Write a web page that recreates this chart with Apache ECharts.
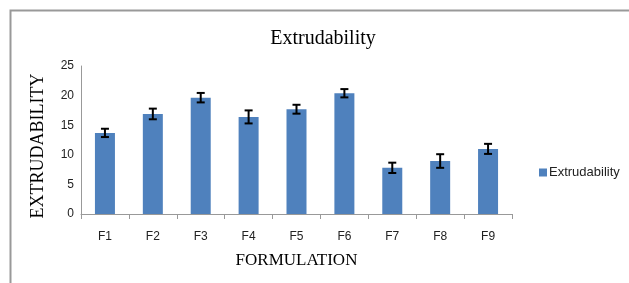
<!DOCTYPE html>
<html>
<head>
<meta charset="utf-8">
<script src="https://cdn.jsdelivr.net/npm/echarts@6/dist/echarts.min.js"></script>
<style>
  html, body { margin: 0; padding: 0; background: #fff; }
  #chart { width: 629px; height: 283px; }
</style>
</head>
<body>
<div id="chart"></div>
<script>
const categories = ['F1', 'F2', 'F3', 'F4', 'F5', 'F6', 'F7', 'F8', 'F9'];
const extrudability = [13.7, 16.9, 19.65, 16.4, 17.7, 20.4, 7.8, 8.95, 11.0];
const errors = [0.7, 0.9, 0.8, 1.1, 0.75, 0.7, 0.87, 1.15, 0.85];
const yTicks = [0, 5, 10, 15, 20, 25];

const chart = echarts.init(document.getElementById('chart'));

// error bar rows: [category index, low, high]
const errorData = extrudability.map((v, i) => [i, v - errors[i], v + errors[i]]);

const option = {
  animation: false,
  title: {
    text: 'Extrudability',
    left: 318,
    top: 24,
    textAlign: 'center',
    textStyle: {
      fontFamily: 'Liberation Serif',
      fontWeight: 'normal',
      fontSize: 20,
      color: '#000',
    },
  },
  legend: {
    data: ['Extrudability'],
    orient: 'vertical',
    left: 534,
    top: 161,
    itemWidth: 8,
    itemHeight: 8,
    itemGap: 4,
    icon: 'rect',
    textStyle: {
      fontFamily: 'Liberation Sans',
      fontSize: 13,
      color: '#222',
      padding: [0, 0, 0, -3],
    },
  },
  grid: {
    left: 81,
    right: 117,
    top: 66,
    bottom: 69,
  },
  xAxis: {
    type: 'category',
    data: categories,
    name: 'FORMULATION',
    nameLocation: 'middle',
    nameGap: 38,
    nameTextStyle: {
      fontFamily: 'Liberation Serif',
      fontSize: 17,
      color: '#000',
    },
    axisLine: { lineStyle: { color: '#999', width: 1 } },
    axisTick: { show: true, length: 5, lineStyle: { color: '#999' } },
    axisLabel: {
      margin: 17,
      fontFamily: 'Liberation Sans',
      fontSize: 12,
      color: '#222',
    },
  },
  yAxis: {
    type: 'value',
    min: 0,
    max: 25,
    interval: 5,
    axisLine: { show: true, lineStyle: { color: '#999', width: 1 } },
    axisTick: { show: false },
    splitLine: { show: false },
    axisLabel: {
      margin: 7,
      fontFamily: 'Liberation Sans',
      fontSize: 12,
      color: '#222',
      formatter: (v) => (yTicks.includes(v) ? String(v) : ''),
    },
  },
  graphic: [
    {
      type: 'polyline',
      shape: { points: [[10.5, 283], [10.5, 10.5], [629, 10.5]] },
      style: { stroke: '#999', lineWidth: 2, fill: null },
      silent: true,
    },
    {
      // y axis title, placed like the original (slightly below the axis middle)
      type: 'text',
      x: 38,
      y: 146,
      rotation: Math.PI / 2,
      style: {
        text: 'EXTRUDABILITY',
        font: '18px "Liberation Serif"',
        fill: '#000',
        align: 'center',
        verticalAlign: 'middle',
      },
      silent: true,
    },
  ],
  series: [
    {
      name: 'Extrudability',
      type: 'bar',
      data: extrudability,
      barWidth: 20,
      itemStyle: { color: '#4F81BD' },
    },
    {
      type: 'custom',
      data: errorData,
      z: 10,
      renderItem: (params, api) => {
        const lo = api.coord([api.value(0), api.value(1)]);
        const hi = api.coord([api.value(0), api.value(2)]);
        const half = 4;
        const style = { stroke: '#000', lineWidth: 2 };
        return {
          type: 'group',
          children: [
            { type: 'line', shape: { x1: hi[0], y1: hi[1], x2: lo[0], y2: lo[1] }, style },
            { type: 'line', shape: { x1: hi[0] - half, y1: hi[1], x2: hi[0] + half, y2: hi[1] }, style },
            { type: 'line', shape: { x1: lo[0] - half, y1: lo[1], x2: lo[0] + half, y2: lo[1] }, style },
          ],
        };
      },
    },
  ],
};

chart.setOption(option);
</script>
</body>
</html>
